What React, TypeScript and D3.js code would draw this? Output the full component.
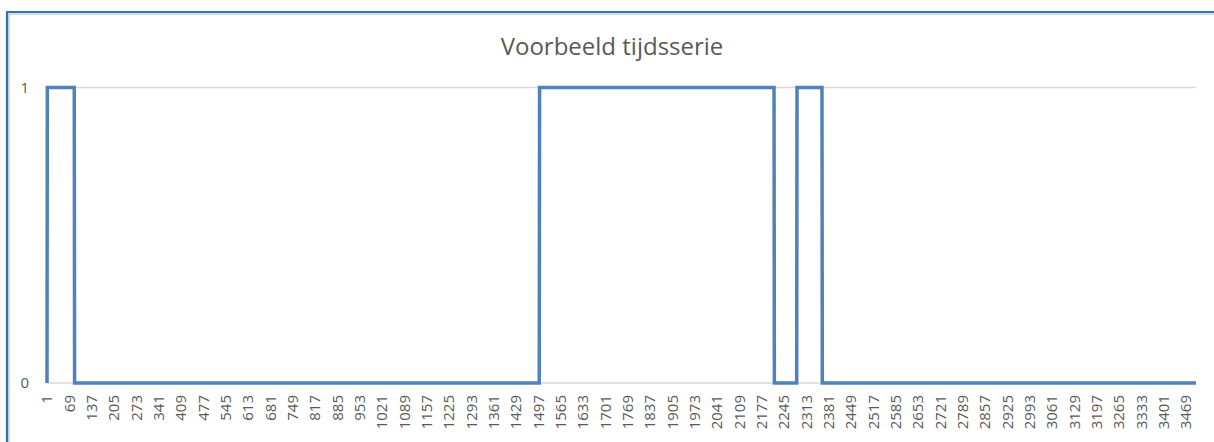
import { useEffect, useRef } from "react";
import * as d3 from "d3";

// series as runs: [first index, last index, value]
const runStart = [1, 2, 85, 1501, 2216, 2285, 2362];
const runEnd = [1, 84, 1500, 2215, 2284, 2361, 3500];
const runValue = [0, 1, 0, 1, 0, 1, 0];
const labelStep = 68;
const yTicks = [0, 1];
const title = "Voorbeeld tijdsserie";

const categories: number[] = [];
const values: number[] = [];
runStart.forEach((s, k) => {
  for (let i = s; i <= runEnd[k]; i++) {
    categories.push(i);
    values.push(runValue[k]);
  }
});

export default function App() {
  const ref = useRef<SVGSVGElement>(null);

  useEffect(() => {
    const width = 1214;
    const height = 442;
    const left = 47;
    const right = 1196;
    const top = 87.5;
    const bottom = 383;

    const svg = d3.select(ref.current);
    svg.selectAll("*").remove();

    svg.append("rect").attr("width", width).attr("height", height).attr("fill", "#fff");

    // chart frame (cropped, only left and top visible)
    svg.append("path")
      .attr("d", `M9,${height + 5}V14H${width + 5}`)
      .attr("fill", "none")
      .attr("stroke", "#d0d0d0")
      .attr("stroke-width", 1.5);
    svg.append("path")
      .attr("d", `M7,${height + 5}V12H${width + 5}`)
      .attr("fill", "none")
      .attr("stroke", "#2e75b6")
      .attr("stroke-width", 2.2);

    svg.append("text")
      .attr("x", 612)
      .attr("y", 55)
      .attr("text-anchor", "middle")
      .attr("font-family", "Open Sans")
      .attr("font-size", 24)
      .attr("fill", "#595959")
      .text(title);

    const x = d3.scaleLinear()
      .domain([categories[0], categories[categories.length - 1]])
      .range([left, right]);

    const y = d3.scaleLinear().domain([0, 1]).range([bottom, top]);

    // gridlines + y labels
    yTicks.forEach(t => {
      svg.append("line")
        .attr("x1", left).attr("x2", right)
        .attr("y1", y(t)).attr("y2", y(t))
        .attr("stroke", "#d9d9d9")
        .attr("stroke-width", 1.5);
      svg.append("text")
        .attr("x", 29)
        .attr("y", y(t))
        .attr("dy", "0.35em")
        .attr("text-anchor", "end")
        .attr("font-family", "Open Sans")
        .attr("font-size", 15)
        .attr("fill", "#595959")
        .text(t);
    });

    // x labels every 68 categories
    const shown = categories.filter(c => (c - 1) % labelStep === 0);
    svg.selectAll(".xl")
      .data(shown)
      .enter()
      .append("text")
      .attr("class", "xl")
      .attr("transform", d => `translate(${x(d)},395) rotate(-90)`)
      .attr("dy", "0.36em")
      .attr("text-anchor", "end")
      .attr("font-family", "Open Sans")
      .attr("font-size", 15)
      .attr("fill", "#595959")
      .text(d => d);

    const line = d3.line<number>()
      .x((d, i) => x(categories[i]))
      .y(d => y(d));

    svg.append("path")
      .datum(values)
      .attr("fill", "none")
      .attr("stroke", "#4f81bd")
      .attr("stroke-width", 3.5)
      .attr("stroke-linejoin", "miter")
      .attr("d", line);
  }, []);

  return (
    <svg
      ref={ref}
      width={1214}
      height={442}
      style={{ position: "absolute", left: 0, top: 0, display: "block" }}
    ></svg>
  );
}
